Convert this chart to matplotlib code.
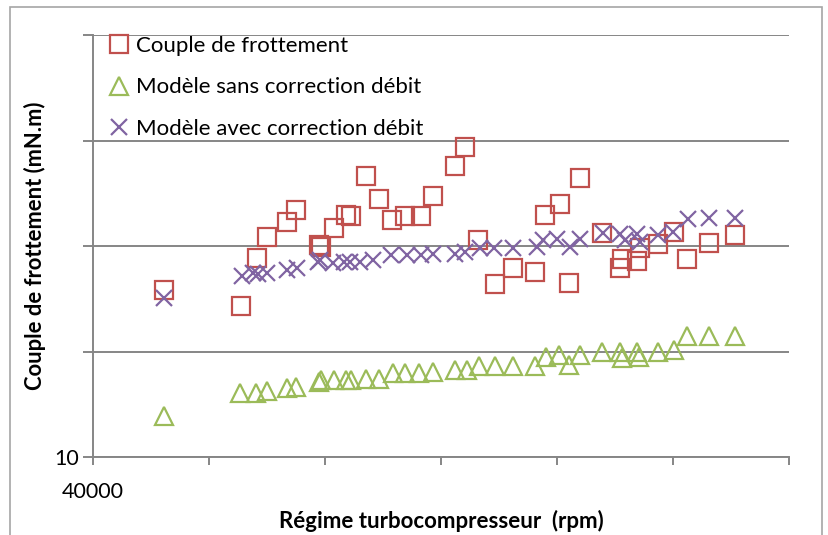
import matplotlib.pyplot as plt
from matplotlib.patches import Rectangle

plt.rcParams['font.family'] = ['Lato', 'DejaVu Sans']

# Couple de frottement (mesure)
rpm_mes = [52240, 65520, 68280, 70000, 73450, 75000, 78970, 79310, 81550, 83620,
           84480, 87070, 89310, 91550, 93790, 96550, 98620, 102410, 104140, 106380,
           109310, 112410, 116210, 117930, 120520, 122070, 123970, 127760, 130860, 131210,
           133790, 134310, 137410, 140170, 142410, 146210, 150690]
couple_mes = [25.8, 24.3, 28.9, 30.9, 32.3, 33.4, 30.1, 29.9, 31.7, 32.9,
              32.8, 36.6, 34.5, 32.5, 32.8, 32.8, 34.7, 37.6, 39.4, 30.6,
              26.4, 27.9, 27.5, 32.9, 34.0, 26.5, 36.4, 31.2, 27.9, 28.8,
              28.6, 29.8, 30.2, 31.3, 28.8, 30.3, 31.0]

# Modele sans correction debit
rpm_sans = [52240, 65340, 68100, 70000, 73450, 75000, 78970, 79310, 81550, 83620,
            84480, 87070, 89310, 91720, 93790, 96210, 98620, 102410, 104480, 106550,
            109310, 112410, 116210, 118100, 120340, 122070, 123970, 127760, 130860, 131210,
            133790, 134140, 137410, 140170, 142410, 146210, 150690]
couple_sans = [13.9, 16.1, 16.1, 16.3, 16.5, 16.6, 17.1, 17.3, 17.3, 17.3,
               17.3, 17.4, 17.4, 18.0, 18.0, 18.0, 18.1, 18.2, 18.2, 18.6,
               18.6, 18.6, 18.6, 19.5, 19.7, 18.7, 19.7, 20.0, 20.0, 19.4,
               20.0, 19.5, 20.0, 20.1, 21.5, 21.5, 21.5]

# Modele avec correction debit
rpm_avec = [52240, 65690, 67590, 68450, 70000, 73450, 75170, 78790, 79140, 81380,
            83280, 84310, 86030, 88280, 91380, 94140, 96550, 98620, 102410, 104140,
            106720, 109140, 112410, 116550, 117590, 120000, 122240, 123970, 127930, 130860,
            131720, 133790, 134310, 137410, 140000, 142590, 146210, 150690]
couple_avec = [25.1, 27.2, 27.4, 27.3, 27.4, 27.7, 27.9, 28.5, 28.7, 28.4,
               28.5, 28.5, 28.5, 28.7, 29.1, 29.1, 29.1, 29.2, 29.2, 29.4,
               29.8, 29.8, 29.8, 29.9, 30.6, 30.7, 29.9, 30.7, 31.2, 31.1,
               30.6, 31.1, 30.4, 31.0, 31.3, 32.6, 32.7, 32.7]

labels = ['Couple de frottement', 'Modèle sans correction débit', 'Modèle avec correction débit']
x_ticks = [40000, 60000, 80000, 100000, 120000, 140000, 160000]
y_ticks = [10, 20, 30, 40, 50]

red = '#C0504D'
green = '#9BBB59'
purple = '#8064A2'
grey = '#868686'

fig = plt.figure(figsize=(8.29, 5.35), dpi=100)
fig.patches.append(Rectangle((10 / 829, -0.05), 812 / 829, 1 - 7 / 535 + 0.05,
                             transform=fig.transFigure, fill=False,
                             edgecolor='#A6A6A6', linewidth=1.2))

ax = fig.add_axes([93 / 829, 78 / 535, 696 / 829, 422 / 535])

ax.plot(rpm_mes, couple_mes, ls='none', marker='s', ms=12.5, mfc='none',
        mec=red, mew=1.6, label=labels[0])
ax.plot(rpm_sans, couple_sans, ls='none', marker='^', ms=12.5, mfc='none',
        mec=green, mew=1.6, label=labels[1])
ax.plot(rpm_avec, couple_avec, ls='none', marker='x', ms=11, mec=purple,
        mew=1.6, label=labels[2])

ax.set_xlim(x_ticks[0], x_ticks[-1])
ax.set_ylim(y_ticks[0], y_ticks[-1])
ax.set_xticks(x_ticks)
ax.set_yticks(y_ticks)
ax.set_xticklabels(['40000'] + [''] * (len(x_ticks) - 1), fontsize=15.5)
ax.set_yticklabels(['10'] + [''] * (len(y_ticks) - 1), fontsize=15.5)

ax.grid(axis='y', color=grey, linewidth=1.4)
ax.set_axisbelow(True)
for side in ['top', 'right']:
    ax.spines[side].set_visible(False)
for side in ['left', 'bottom']:
    ax.spines[side].set_color(grey)
    ax.spines[side].set_linewidth(1.4)
ax.tick_params(axis='x', length=6, width=1.4, color=grey, pad=12)
ax.tick_params(axis='y', length=7, width=1.4, color=grey, pad=3)

ax.set_xlabel('Régime turbocompresseur  (rpm)', fontsize=16, fontweight='bold')
ax.set_ylabel('Couple de frottement (mN.m)', fontsize=15.8, fontweight='bold')
ax.xaxis.set_label_coords(0.5, -64 / 422, transform=ax.transAxes)
ax.yaxis.set_label_coords(-58 / 696, 0.5, transform=ax.transAxes)
ax.xaxis.label.set_va('center')
ax.yaxis.label.set_va('center')

ax.legend(loc='upper left', bbox_to_anchor=(0.0, 1.035), frameon=False, fontsize=16,
          handlelength=0.9, handletextpad=0.35, labelspacing=0.97, borderaxespad=0.3)

fig.savefig('out.png', dpi=100)
